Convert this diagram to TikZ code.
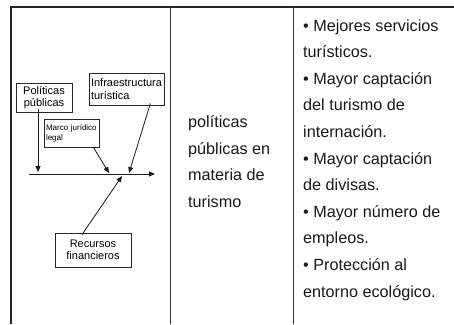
\documentclass[tikz,border=0pt]{standalone}
\usepackage{fontspec}
\setmainfont{Liberation Sans}
\usetikzlibrary{arrows.meta}
\begin{document}
\begin{tikzpicture}[x=1pt,y=-1pt,
  frame/.style={line width=1.6pt,draw=black!85},
  colline/.style={line width=0.9pt,draw=black!80},
  cbox/.style={draw=black!85,line width=0.8pt,inner sep=1pt,font=\fontsize{11}{12.5}\selectfont},
  arr/.style={line width=0.8pt,draw=black!90,-{Triangle[length=6pt,width=5pt]}},
  coltext/.style={anchor=base west,inner sep=0pt,align=left,font=\fontsize{16.2}{26.6}\selectfont,text=black!90}]
\useasboundingbox (0,0) rectangle (454,324);
\fill[white] (0,0) rectangle (454,324);
\draw[frame] (11,324) -- (11,7) -- (454,7);
\draw[colline] (170,7) -- (170,324);
\draw[colline] (293,7) -- (293,324);
% base anchor = baseline of the last line
\node[coltext] (mid) at (188,207.5) {políticas\\públicas en\\materia de\\turismo};
\node[coltext] (res) at (303,297) {• Mejores servicios\\turísticos.\\• Mayor captación\\del turismo de\\internación.\\• Mayor captación\\de divisas.\\• Mayor número de\\empleos.\\• Protección al\\entorno ecológico.};
\node[cbox,minimum width=56pt,minimum height=29pt,align=center] (pp) at (44,97.5) {Políticas\\públicas};
\node[cbox,minimum width=75pt,minimum height=32pt,align=left] (inf) at (126.5,89) {Infraestructura\\turística};
\node[cbox,font=\fontsize{8}{10}\selectfont,minimum width=55pt,minimum height=28pt,align=left,text width=51pt] (mj) at (71.5,133) {Marco jurídico\\legal};
\node[cbox,minimum width=76pt,minimum height=34pt,align=center] (rf) at (93,250) {Recursos\\financieros};
\coordinate (s0) at (29,174);
\coordinate (s1) at (155,174);
\coordinate (p1) at (38,172);
\coordinate (m1) at (109,173);
\coordinate (i1) at (129,173);
\coordinate (r1) at (122,176);
\draw[arr] (s0) -- (s1);
\draw[arr] ([yshift=3pt]pp.south -| p1) -- (p1);
\draw[arr] ([xshift=-6pt]mj.south east) -- (m1);
\draw[arr] ([xshift=-14pt,yshift=2pt]inf.south east) -- (i1);
\draw[arr] ([xshift=-11pt,yshift=-2pt]rf.north) -- (r1);
\end{tikzpicture}
\end{document}
